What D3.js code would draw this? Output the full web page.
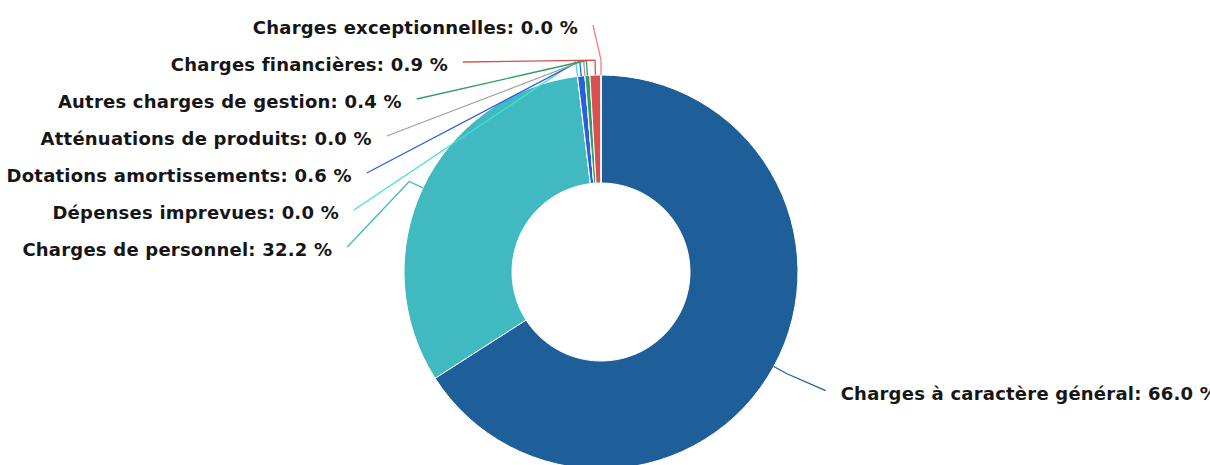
<!DOCTYPE html>
<html>
<head>
<meta charset="utf-8">
<script src="https://cdn.jsdelivr.net/npm/d3@7"></script>
<style>
  html, body { margin: 0; padding: 0; background: #fff; overflow: hidden; }
  .label { font-family: "DejaVu Sans", sans-serif; font-weight: bold; font-size: 18px; letter-spacing: 0.22px; fill: #161616; }
</style>
</head>
<body>
<div class="pie-canvas"></div>
<script>
// budget categories, in drawing order (clockwise from 12 o'clock)
const categories = [
  "Charges à caractère général",
  "Charges de personnel",
  "Dépenses imprevues",
  "Dotations amortissements",
  "Atténuations de produits",
  "Autres charges de gestion",
  "Charges financières",
  "Charges exceptionnelles"
];
const shares = [66.0, 32.2, 0.0, 0.6, 0.0, 0.4, 0.9, 0.0];
const colors = ["#1f5f99", "#41b9c0", "#40e0d8", "#2a5fe0", "#a0a0a0", "#2e9e64", "#d95050", "#f07f86"];

const width = 1210, height = 465;
const cx = 601, cy = 272;
const outerR = 197, innerR = 89;
const labelR = 247;     // radius of the circle the label connectors start on
const breakOff = 15;    // connector elbow, outside the slice
const padX = 8, textGap = 15, lineStep = 37;

const svg = d3.select(".pie-canvas")
  .append("svg")
  .attr("width", width)
  .attr("height", height);

const g = svg.append("g")
  .attr("transform", "translate(" + cx + "," + cy + ")");

const data = categories.map((name, i) => ({ name, value: shares[i], color: colors[i] }));

const pie = d3.pie().sort(null).value(d => d.value);
const arcs = pie(data);

const arc = d3.arc().innerRadius(innerR).outerRadius(outerR);

g.selectAll("path.slice")
  .data(arcs)
  .join("path")
  .attr("class", "slice")
  .attr("d", arc)
  .attr("fill", d => d.data.color)
  .attr("stroke", "#fff")
  .attr("stroke-width", 1);

// label layout
function polar(a, r) { return [Math.sin(a) * r, -Math.cos(a) * r]; }

arcs.forEach((d, i) => {
  d.mid = (d.startAngle + d.endAngle) / 2;
  d.left = d.mid > Math.PI;
  d.natY = polar(d.mid, labelR)[1];
  d.idx = i;
});

// push labels apart, top to bottom, on each side
["left", "right"].forEach(side => {
  const list = arcs.filter(d => (side === "left") === d.left)
    .sort((a, b) => a.natY - b.natY || b.idx - a.idx);
  let prev = -Infinity;
  list.forEach(d => {
    d.ly = Math.max(d.natY, prev + lineStep);
    prev = d.ly;
  });
});

arcs.forEach(d => {
  const dy = Math.max(-labelR, Math.min(labelR, d.ly));
  const dx = Math.sqrt(labelR * labelR - dy * dy) + padX;
  d.lx = d.left ? -dx : dx;
});

const line = d3.line();

g.selectAll("path.connector")
  .data(arcs)
  .join("path")
  .attr("class", "connector")
  .attr("fill", "none")
  .attr("stroke", d => d.data.color)
  .attr("stroke-width", 1.3)
  .attr("stroke-linejoin", "round")
  .attr("d", d => line([
    [d.lx, d.ly],
    polar(d.mid, outerR + breakOff),
    polar(d.mid, outerR)
  ]));

g.selectAll("text.label")
  .data(arcs)
  .join("text")
  .attr("class", "label")
  .attr("x", d => d.left ? d.lx - textGap : d.lx + textGap)
  .attr("y", d => d.ly + 3)
  .attr("dy", "0.35em")
  .attr("text-anchor", d => d.left ? "end" : "start")
  .text(d => d.data.name + ": " + d.data.value.toFixed(1) + " %");
</script>
</body>
</html>
